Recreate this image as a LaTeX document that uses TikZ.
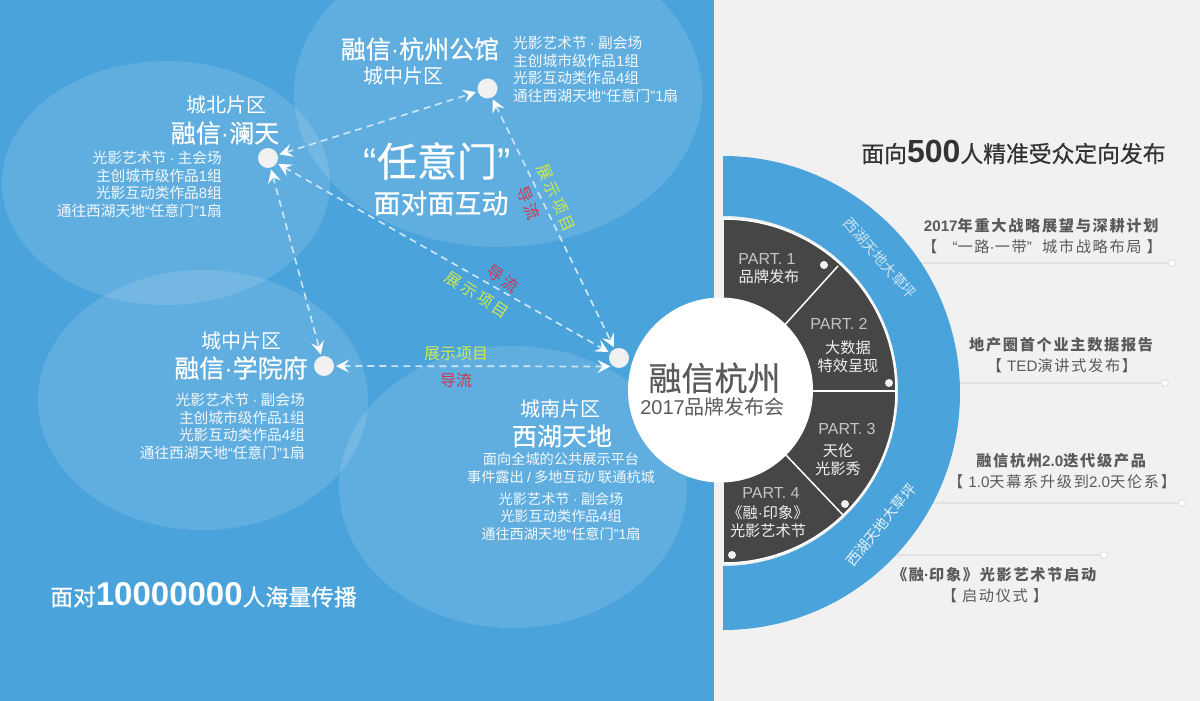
\documentclass[tikz,border=0pt]{standalone}
\usepackage{fontspec}
\usetikzlibrary{arrows.meta}
\setmainfont{Noto Sans CJK SC}
\newfontfamily\latf{Liberation Sans}
\newfontfamily\cjkm[FakeBold=0.5]{Noto Sans CJK SC}
\newfontfamily\cjks[LetterSpace=11]{Noto Sans CJK SC}
\newcommand\lat[1]{{\latf #1}}
\newcommand\fsz[2]{\fontsize{#1}{#2}\selectfont}
\definecolor{bgblue}{HTML}{4BA3DB}
\definecolor{bggray}{HTML}{F1F1F1}
\definecolor{darksec}{HTML}{464646}
\definecolor{txtgray}{HTML}{5A5A5A}
\definecolor{lime}{HTML}{CDE94F}
\definecolor{rosered}{HTML}{C63A55}
\definecolor{partgray}{HTML}{C4C4C4}
\definecolor{linegray}{HTML}{E2E2E2}
\definecolor{linkcol}{HTML}{CBE5F6}
\tikzset{
  zone/.style={fill=white,fill opacity=.12,draw=none},
  hub/.style={circle,fill=bggray,draw=none,minimum size=20pt,inner sep=0pt,outer sep=2pt},
  link/.style={draw=linkcol,line width=1.7pt,dash pattern=on 7pt off 5pt,
    {Stealth[length=13pt,width=13pt,inset=5pt,fill=white,color=white]}-{Stealth[length=13pt,width=13pt,inset=5pt,fill=white,color=white]}},
  wtxt/.style={text=white,inner sep=0pt,align=center},
  lst/.style={text=white,text opacity=.92,inner sep=0pt,font=\fsz{14.7}{17.7}},
  lstb/.style={text=white,text opacity=.92,inner sep=0pt,font=\fsz{14.2}{17.7}},
  sub/.style={wtxt,font=\fsz{20}{22}},
  ttl/.style={wtxt,font=\cjkm\fsz{25}{27}},
  show/.style={text=lime,inner sep=0pt,font=\fsz{16}{18}},
  guide/.style={text=rosered,inner sep=0pt,font=\fsz{16}{18}},
  part/.style={text=partgray,inner sep=0pt,font=\latf\fsz{16}{18}},
  ptxt/.style={text=white,text opacity=.92,inner sep=0pt,align=center,font=\fsz{15.2}{18}},
  pdot/.style={circle,fill=bggray,minimum size=8pt,inner sep=0pt},
  item/.style={text=txtgray,inner sep=0pt,align=center,font=\cjks\fsz{15.2}{21}},
  rule/.style={draw=linegray,line width=1.4pt},
  enddot/.style={circle,fill=white,draw=linegray,line width=1pt,minimum size=7pt,inner sep=0pt},
  ringtxt/.style={inner sep=0pt,font=\fsz{14.5}{16}},
}
\begin{document}
\begin{tikzpicture}[x=1pt,y=-1pt]
\useasboundingbox (0,0) rectangle (1200,701);
\fill[bgblue] (0,0) rectangle (714,701);
\fill[bggray] (714,0) rectangle (1200,701);
% zones
\fill[zone] (166,183) ellipse [x radius=164pt,y radius=122pt];
\fill[zone] (498,93) ellipse [x radius=204pt,y radius=154pt];
\fill[zone] (203,400) ellipse [x radius=165pt,y radius=130pt];
\fill[zone] (513,487) ellipse [x radius=174pt,y radius=141pt];
% hubs
\node[hub] (lan) at (268,158) {};
\node[hub] (gong) at (487.5,88.5) {};
\node[hub] (xue) at (324,366) {};
\node[hub] (xi) at (619,358) {};
\draw[link] (lan) -- (gong);
\draw[link] (lan) -- (xi);
\draw[link] (lan) -- (xue);
\draw[link] (gong) -- (xi);
\draw[link] (xue.east) -- (xi.south west);
% link labels
\node[show,rotate=-66] (s1) at (556,198) {展\,示\,项\,目};
\node[guide,rotate=-68] (g1) at (529,203) {导\,流};
\node[show,rotate=-33] (s2) at (477,295) {展\,示\,项\,目};
\node[guide,rotate=-36] (g2) at (503,279) {导\,流};
\node[show] (s3) at (456,354) {展示项目};
\node[guide] (g3) at (456,380) {导流};
% Lantian
\node[sub] (t1a) at (226,105) {城北片区};
\node[ttl] (t1b) at (225,133) {融信\lat{·}澜天};
\node[lst,anchor=east,align=right] (t1c) at (222,184.5) {光影艺术节 \lat{·} 主会场\\主创城市级作品\lat{1}组\\光影互动类作品\lat{8}组\\通往西湖天地\lat{“}任意门\lat{”}\lat{1}扇};
% Gongguan
\node[ttl] (t2a) at (420,49) {融信\lat{·}杭州公馆};
\node[sub] (t2b) at (403,76) {城中片区};
\node[lst,anchor=west,align=left] (t2c) at (513,69.5) {光影艺术节 \lat{·} 副会场\\主创城市级作品\lat{1}组\\光影互动类作品\lat{4}组\\通往西湖天地\lat{“}任意门\lat{”}\lat{1}扇};
% Renyimen
\node[wtxt,font=\cjkm\fsz{40}{42}] (t3a) at (437,161) {\lat{“}任意门\lat{”}};
\node[wtxt,font=\cjkm\fsz{27}{30}] (t3b) at (441,203) {面对面互动};
% Xueyuan
\node[sub] (t4a) at (241,341) {城中片区};
\node[ttl] (t4b) at (241,368) {融信\lat{·}学院府};
\node[lst,anchor=east,align=right] (t4c) at (305,426.5) {光影艺术节 \lat{·} 副会场\\主创城市级作品\lat{1}组\\光影互动类作品\lat{4}组\\通往西湖天地\lat{“}任意门\lat{”}\lat{1}扇};
% Xihu
\node[sub] (t5a) at (560,409) {城南片区};
\node[wtxt,font=\cjkm\fsz{25}{27}] (t5b) at (562,436) {西湖天地};
\node[lstb,align=center] (t5c) at (561,468) {面向全城的公共展示平台\\事件露出 \lat{/} 多地互动\lat{/} 联通杭城};
\node[lstb,align=center] (t5d) at (561,516.5) {光影艺术节 \lat{·} 副会场\\光影互动类作品\lat{4}组\\通往西湖天地\lat{“}任意门\lat{”}\lat{1}扇};
% bottom-left headline
\node[wtxt,font=\cjkm\fsz{22.8}{24}] (t6) at (203.5,595) {面对\lat{\fsz{33}{34}\textbf{10000000}}人海量传播};
% rules on the right
\draw[rule] (900,263) -- (1172,263) node[enddot] (e1) {};
\draw[rule] (900,383) -- (1165,383) node[enddot] (e2) {};
\draw[rule] (900,503) -- (1182,503) node[enddot] (e3) {};
\draw[rule] (880,555) -- (1104,555) node[enddot] (e4) {};
% ring
\fill[bgblue] (723,156) arc[start angle=90,end angle=-90,radius=237pt] -- (723,566) arc[start angle=-90,end angle=90,radius=175pt] -- cycle;
\node[ringtxt,text=white,text opacity=.7,rotate=-49] (r1) at (880,258) {西湖天地大草坪};
\node[ringtxt,text=white,text opacity=.85,rotate=51] (r2) at (881,525) {西湖天地大草坪};
% sector
\fill[darksec] (724,219) arc[start angle=90,end angle=-90,radius=172pt] -- cycle;
\draw[white,line width=1.5pt] (724,219) arc[start angle=90,end angle=-90,radius=172pt];
\coordinate (cc) at (725,391);
\coordinate (d1) at (838,266);
\coordinate (d2) at (897,391);
\coordinate (d3) at (843,515);
\draw[white,line width=1.5pt] (cc) -- (d1);
\draw[white,line width=1.5pt] (cc) -- (d2);
\draw[white,line width=1.5pt] (cc) -- (d3);
\node[circle,fill=white,minimum size=185pt,inner sep=0pt] (core) at (720.5,390) {};
\node[text=txtgray,inner sep=0pt,font=\cjkm\fsz{33}{36}] (c1) at (714.5,378) {融信杭州};
\node[text=txtgray,inner sep=0pt,font=\fsz{20}{22}] (c2) at (712.5,407) {\lat{2017}品牌发布会};
% parts
\node[part] (p1) at (767,259) {PART. 1};
\node[ptxt] (q1) at (769,277) {品牌发布};
\node[pdot] (o1) at (824,265) {};
\node[part] (p2) at (839,324) {PART. 2};
\node[ptxt] (q2) at (848,357) {大数据\\特效呈现};
\node[pdot] (o2) at (889,383) {};
\node[part] (p3) at (847,429) {PART. 3};
\node[ptxt] (q3) at (838,460) {天伦\\光影秀};
\node[pdot] (o3) at (845,504) {};
\node[part] (p4) at (771,493) {PART. 4};
\node[ptxt] (q4) at (768,522) {《融\lat{·}印象》\\光影艺术节};
\node[pdot] (o4) at (732,555) {};
% right headline
\node[text=black!80,inner sep=0pt,font=\cjkm\fsz{22.8}{24}] (h) at (1013.5,152) {面向\lat{\fsz{32}{34}\textbf{500}}人精准受众定向发布};
% right items
\node[item] (i1) at (1042,236.5) {\textbf{\lat{2017}年重大战略展望与深耕计划}\\【\ \ \ \lat{“}一路\lat{·}一带\lat{”}\ \ 城市战略布局 】};
\node[item] (i2) at (1062,355.5) {\textbf{地产圈首个业主数据报告}\\【 \lat{TED}演讲式发布】};
\node[item] (i3) at (1062,471.5) {\textbf{融信杭州\lat{2.0}迭代级产品}\\【 \lat{1.0}天幕系升级到\lat{2.0}天伦系】};
\node[item] (i4) at (995,585.5) {\textbf{《融\lat{·}印象》光影艺术节启动}\\【 启动仪式 】};
\end{tikzpicture}
\end{document}
